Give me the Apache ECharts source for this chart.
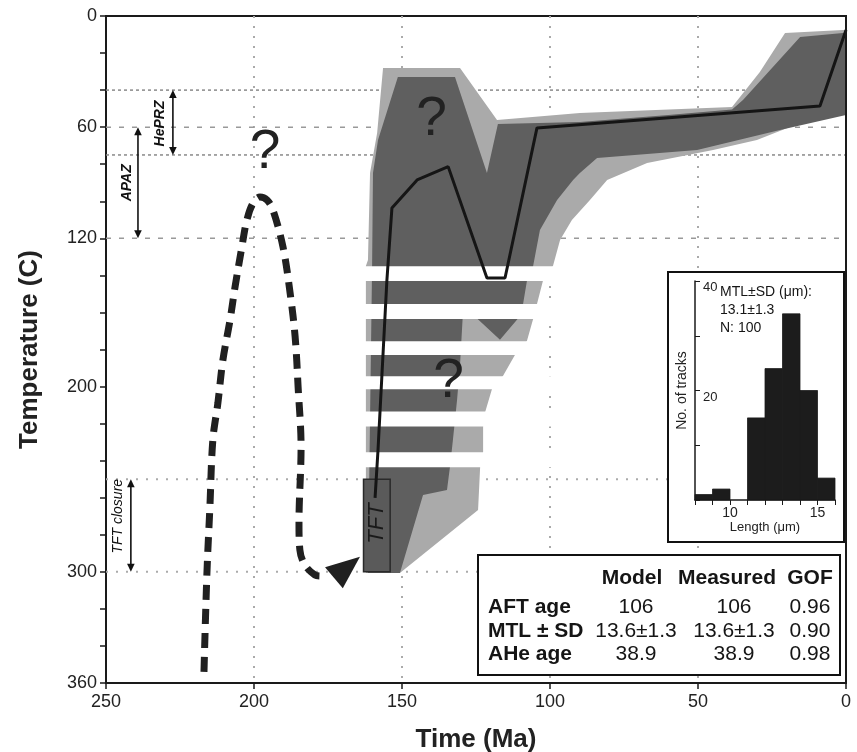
<!DOCTYPE html>
<html>
<head>
<meta charset="utf-8">
<script src="https://cdn.jsdelivr.net/npm/echarts@6/dist/echarts.min.js"></script>
<style>
  html, body { margin: 0; padding: 0; background: #fff; }
  #chart { width: 857px; height: 752px; }
</style>
</head>
<body>
<div id="chart"></div>
<script>
// ---- data (time in Ma, temperature in C) ----
const yLabelValues = [0, 60, 120, 200, 300, 360];
const refLineTemps = [40, 60, 75, 120, 250, 300];

const lightEnvelope = [
  [156.4, 28.1], [130.4, 28.1], [117.9, 56.1], [89.9, 52.3], [38.5, 49.1], [29.1, 30.2],
  [20.6, 9.2], [1, 7.6], [0, 7.6], [0, 52.3], [1, 52.3], [15.5, 57.7], [30.1, 66.9],
  [44.9, 72.3], [67.2, 79.3], [80.7, 88.5], [86.5, 99.3], [92.6, 110.1], [96.6, 120.9],
  [99, 134.9], [102.4, 143], [104.4, 155.4], [105.7, 163.5], [107.8, 175.4], [111.8, 182.9],
  [115.9, 194.3], [119.6, 201.3], [121.9, 213.7], [122.6, 221.8], [122.6, 235.3],
  [123.6, 243.4], [124.3, 266.6], [150.7, 300.6], [162.2, 300.6], [162.2, 134.9],
  [161.5, 131.7], [160.8, 84.7], [158.4, 63.1]
];

const darkEnvelope = [
  [151.4, 32.9], [132.1, 32.9], [121.3, 84.7], [117.6, 58.3], [89.9, 57.2], [60, 53.5],
  [38.5, 50.4], [34.8, 45.3], [15.5, 11.3], [1, 9.2], [0, 9.2], [0, 53.4], [22.3, 61.5],
  [50.3, 72.3], [84.1, 76.6], [89.9, 84.7], [92.2, 88.5], [97.6, 99.3], [103.4, 115.5],
  [105.7, 134.9], [107.8, 143], [109.1, 155.4], [109.8, 161.4], [116.9, 174.8],
  [127, 159.7], [129.4, 159.7], [130.4, 188.3], [131.4, 207.2], [132.8, 228.8],
  [133.8, 243.4], [134.8, 255.8], [142.9, 258.5], [150.7, 300.6], [161.5, 300.6],
  [160.1, 134.9], [159.8, 84.7], [158.1, 66.9]
];

const gapBands = [[135, 143], [155.5, 163.5], [175.5, 183], [194.5, 201.5], [213.5, 221.5], [235.5, 243.5]];

const bestFitPath = [
  [159.1, 260.1], [158.1, 234.2], [155.1, 142.5], [153.4, 103.6], [144.9, 88.5],
  [134.4, 81.3], [121.3, 141.4], [115.2, 141.4], [104.4, 60.4], [8.8, 48.6], [0, 7.6]
];

const dashedPath = [
  [216.9, 354], [215.9, 300.6], [214.9, 265], [213.9, 228.8], [212.2, 208.9], [210.5, 185.6],
  [208.1, 164.1], [206.4, 146.2], [204.1, 124.7], [202.4, 110.1], [200.3, 100.9], [198, 97.7],
  [195.6, 99.3], [193.6, 104.7], [190.2, 124.7], [187.8, 149.5], [186.1, 173.2], [185.1, 200.2],
  [184.1, 232.6], [184.8, 273.6], [184.5, 288.2], [182.8, 296.3], [179.4, 301.7], [177.7, 302.2]
];
const arrowHead = [[176.0, 297.5], [164.2, 291.8], [170.0, 308.9]];

const questionMarks = [[196.3, 74], [140.0, 56.1], [134.3, 197.5]];

const tftBoxTime = [163, 154];
const tftBoxTemp = [250, 300];

const zoneNames = ['HePRZ', 'APAZ', 'TFT closure'];
const zoneTop = [40, 60, 250];
const zoneBottom = [75, 120, 300];

const histBins = [8, 9, 10, 11, 12, 13, 14, 15];
const histCounts = [1, 2, 0, 15, 24, 34, 20, 4];
const histXLabels = [10, 15];
const histYLabels = [20, 40];
const insetStats = ['MTL\u00b1SD (\u03bcm):', '13.1\u00b11.3', 'N: 100'];

const tableHeader = ['Model', 'Measured', 'GOF'];
const tableRowLabels = ['AFT age', 'MTL \u00b1 SD', 'AHe age'];
const tableModel = ['106', '13.6\u00b11.3', '38.9'];
const tableMeasured = ['106', '13.6\u00b11.3', '38.9'];
const tableGOF = ['0.96', '0.90', '0.98'];

// ---- layout / style ----
const FONT = '"Liberation Sans", Arial, Helvetica, sans-serif';
const LIGHT = '#aaaaaa';
const DARK = '#5f5f5f';
const zoneArrowTime = [227.4, 239.2, 241.6];
const zoneLabelTime = [231.6, 242.8, 245.9];
const zoneLabelTemp = [58, 90, 270];
const zoneLabelFont = ['italic bold 14px ' + FONT, 'italic bold 14px ' + FONT, 'italic 14px ' + FONT];
const refLineStyle = {
  40: { color: '#8a8a8a', width: 1.5, dash: [3, 3] },
  75: { color: '#8a8a8a', width: 1.5, dash: [3, 3] },
  60: { color: '#999', width: 1.5, dash: [5, 8] },
  120: { color: '#999', width: 1.5, dash: [5, 8] },
  250: { color: '#aaa', width: 2, dash: [2, 8] },
  300: { color: '#aaa', width: 2, dash: [2, 8] }
};

function polygonSeries(points, color, z) {
  return {
    type: 'custom', silent: true, z: z, xAxisIndex: 0, yAxisIndex: 0,
    data: [points[0]],
    renderItem: function (params, api) {
      return {
        type: 'polygon',
        shape: { points: points.map(function (p) { return api.coord(p); }) },
        style: { fill: color }
      };
    }
  };
}

function txt(x, y, text, font, align, extra) {
  return Object.assign({
    type: 'text', x: x, y: y, z: 51,
    style: {
      text: text, font: font, fill: '#151515',
      align: align, textAlign: align, verticalAlign: 'middle', textVerticalAlign: 'middle'
    }
  }, extra || {});
}

const graphicEls = [
  // right frame edge kept solid above the envelope
  { type: 'line', z: 45, shape: { x1: 846, y1: 16, x2: 846, y2: 683 },
    style: { stroke: '#1a1a1a', lineWidth: 2 } },
  { type: 'rect', z: 50, shape: { x: 668, y: 272, width: 176, height: 270 },
    style: { fill: '#fff', stroke: '#111', lineWidth: 2 } },
  { type: 'rect', z: 50, shape: { x: 478, y: 555, width: 362, height: 120 },
    style: { fill: '#fff', stroke: '#111', lineWidth: 2 } }
];
insetStats.forEach(function (s, i) {
  graphicEls.push(txt(720, 292 + i * 18, s, '14px ' + FONT, 'left', { z: 70 }));
});
const headerX = [632, 727, 810];
const valueX = [636, 734, 810];
const rowY = [607, 631, 654];
tableHeader.forEach(function (h, i) {
  graphicEls.push(txt(headerX[i], 578, h, 'bold 21px ' + FONT, 'center'));
});
tableRowLabels.forEach(function (r, i) {
  graphicEls.push(txt(488, rowY[i], r, 'bold 21px ' + FONT, 'left'));
  graphicEls.push(txt(valueX[0], rowY[i], tableModel[i], '21px ' + FONT, 'center'));
  graphicEls.push(txt(valueX[1], rowY[i], tableMeasured[i], '21px ' + FONT, 'center'));
  graphicEls.push(txt(valueX[2], rowY[i], tableGOF[i], '21px ' + FONT, 'center'));
});

const option = {
  animation: false,
  backgroundColor: '#fff',
  textStyle: { fontFamily: FONT },
  grid: [
    { left: 106, top: 16, width: 740, height: 667, show: true, borderColor: '#1a1a1a', borderWidth: 2,
      backgroundColor: 'transparent', containLabel: false, outerBoundsMode: 'none' },
    { left: 695, top: 281, width: 140, height: 219, containLabel: false, outerBoundsMode: 'none' }
  ],
  xAxis: [
    {
      gridIndex: 0, type: 'value', inverse: true, min: 0, max: 250, interval: 50,
      name: 'Time (Ma)', nameLocation: 'middle', nameGap: 44,
      nameTextStyle: { fontSize: 26, fontWeight: 'bold', color: '#222', fontFamily: FONT },
      axisLine: { show: true, onZero: false, lineStyle: { color: '#1a1a1a', width: 2 } },
      axisTick: { show: true, length: 6, lineStyle: { color: '#1a1a1a', width: 1.5 } },
      axisLabel: { fontSize: 18, color: '#222', margin: 10, fontFamily: FONT },
      splitLine: { show: true, lineStyle: { color: '#aaa', width: 2, type: [2, 8] } }
    },
    {
      gridIndex: 1, type: 'value', min: 8, max: 16, interval: 1, z: 60,
      name: 'Length (\u03bcm)', nameLocation: 'middle', nameGap: 20,
      nameTextStyle: { fontSize: 13, color: '#222', fontFamily: FONT },
      axisLine: { show: true, onZero: false, lineStyle: { color: '#1a1a1a', width: 1.5 } },
      axisTick: { show: true, length: 5, lineStyle: { color: '#1a1a1a', width: 1 } },
      axisLabel: { fontSize: 14, color: '#222', margin: 6, fontFamily: FONT,
        formatter: function (v) { return histXLabels.indexOf(v) >= 0 ? String(v) : ''; } },
      splitLine: { show: false }
    }
  ],
  yAxis: [
    {
      gridIndex: 0, type: 'value', inverse: true, min: 0, max: 360, interval: 20,
      name: 'Temperature (C)', nameLocation: 'middle', nameGap: 63, nameRotate: 90,
      nameTextStyle: { fontSize: 26, fontWeight: 'bold', color: '#222', fontFamily: FONT },
      axisLine: { show: true, onZero: false, lineStyle: { color: '#1a1a1a', width: 2 } },
      axisTick: { show: true, length: 6, lineStyle: { color: '#1a1a1a', width: 1.5 } },
      axisLabel: { fontSize: 18, color: '#222', margin: 9, fontFamily: FONT,
        formatter: function (v) { return yLabelValues.indexOf(v) >= 0 ? String(v) : ''; } },
      splitLine: { show: false }
    },
    {
      gridIndex: 1, type: 'value', min: 0, max: 40, interval: 10, z: 60,
      name: 'No. of tracks', nameLocation: 'middle', nameGap: 6, nameRotate: 90,
      nameTextStyle: { fontSize: 14, color: '#222', fontFamily: FONT },
      axisLine: { show: true, onZero: false, lineStyle: { color: '#1a1a1a', width: 1.5 } },
      axisTick: { show: true, inside: true, length: 5, lineStyle: { color: '#1a1a1a', width: 1 } },
      axisLabel: { inside: true, fontSize: 13, color: '#222', margin: 8, verticalAlign: 'top', fontFamily: FONT,
        formatter: function (v) { return histYLabels.indexOf(v) >= 0 ? String(v) : ''; } },
      splitLine: { show: false }
    }
  ],
  graphic: { elements: graphicEls },
  series: [
    // reference temperature lines
    {
      type: 'custom', silent: true, z: 1, xAxisIndex: 0, yAxisIndex: 0,
      data: refLineTemps.map(function (t) { return [125, t]; }),
      renderItem: function (params, api) {
        const T = refLineTemps[params.dataIndex];
        const a = api.coord([250, T]);
        const b = api.coord([0, T]);
        const st = refLineStyle[T];
        return { type: 'line', shape: { x1: a[0], y1: a[1], x2: b[0], y2: b[1] },
          style: { stroke: st.color, lineWidth: st.width, lineDash: st.dash } };
      }
    },
    polygonSeries(lightEnvelope, LIGHT, 2),
    polygonSeries(darkEnvelope, DARK, 3),
    // TFT box
    {
      type: 'custom', silent: true, z: 4, xAxisIndex: 0, yAxisIndex: 0,
      data: [[tftBoxTime[0], tftBoxTemp[0]]],
      renderItem: function (params, api) {
        const p0 = api.coord([tftBoxTime[0], tftBoxTemp[0]]);
        const p1 = api.coord([tftBoxTime[1], tftBoxTemp[1]]);
        const c = api.coord([(tftBoxTime[0] + tftBoxTime[1]) / 2, (tftBoxTemp[0] + tftBoxTemp[1]) / 2]);
        return { type: 'group', children: [
          { type: 'rect', shape: { x: p0[0], y: p0[1], width: p1[0] - p0[0], height: p1[1] - p0[1] },
            style: { fill: '#5a5a5a', stroke: '#2a2a2a', lineWidth: 1.5 } },
          { type: 'text', x: c[0], y: c[1] - 2, rotation: Math.PI / 2, z2: 5,
            style: { text: 'TFT', font: 'italic 22px ' + FONT, fill: '#1a1a1a',
              align: 'center', textAlign: 'center', verticalAlign: 'middle', textVerticalAlign: 'middle' } }
        ] };
      }
    },
    // white gaps between the banded envelope
    {
      type: 'custom', silent: true, z: 5, xAxisIndex: 0, yAxisIndex: 0,
      data: gapBands,
      renderItem: function (params, api) {
        const band = gapBands[params.dataIndex];
        const p0 = api.coord([166, band[0]]);
        const p1 = api.coord([95, band[1]]);
        return { type: 'rect', shape: { x: p0[0], y: p0[1], width: p1[0] - p0[0], height: p1[1] - p0[1] },
          style: { fill: '#ffffff' } };
      }
    },
    // best fit path
    {
      type: 'line', silent: true, z: 7, xAxisIndex: 0, yAxisIndex: 0,
      data: bestFitPath, showSymbol: false, symbol: 'none',
      lineStyle: { color: '#151515', width: 3 }
    },
    // dashed hypothetical path
    {
      type: 'line', silent: true, z: 7, xAxisIndex: 0, yAxisIndex: 0,
      data: dashedPath, showSymbol: false, symbol: 'none', smooth: 0.35,
      lineStyle: { color: '#202020', width: 7, type: [15, 9], cap: 'butt' }
    },
    polygonSeries(arrowHead, '#202020', 7),
    // question marks
    {
      type: 'custom', silent: true, z: 8, xAxisIndex: 0, yAxisIndex: 0,
      data: questionMarks,
      renderItem: function (params, api) {
        const p = api.coord(questionMarks[params.dataIndex]);
        return { type: 'text', x: p[0], y: p[1],
          style: { text: '?', font: '55px ' + FONT, fill: '#222',
            align: 'center', textAlign: 'center', verticalAlign: 'middle', textVerticalAlign: 'middle' } };
      }
    },
    // zone double arrows
    {
      type: 'custom', silent: true, z: 8, xAxisIndex: 0, yAxisIndex: 0,
      data: zoneNames.map(function (n, i) { return [zoneArrowTime[i], zoneTop[i]]; }),
      renderItem: function (params, api) {
        const i = params.dataIndex;
        const a = api.coord([zoneArrowTime[i], zoneTop[i]]);
        const b = api.coord([zoneArrowTime[i], zoneBottom[i]]);
        const l = api.coord([zoneLabelTime[i], zoneLabelTemp[i]]);
        const x = a[0], h = 8, w = 3.8;
        return { type: 'group', children: [
          { type: 'line', shape: { x1: x, y1: a[1] + 4, x2: x, y2: b[1] - 4 },
            style: { stroke: '#111', lineWidth: 1.6 } },
          { type: 'polygon', shape: { points: [[x, a[1]], [x - w, a[1] + h], [x + w, a[1] + h]] },
            style: { fill: '#111' } },
          { type: 'polygon', shape: { points: [[x, b[1]], [x - w, b[1] - h], [x + w, b[1] - h]] },
            style: { fill: '#111' } },
          { type: 'text', x: l[0], y: l[1], rotation: Math.PI / 2,
            style: { text: zoneNames[i], font: zoneLabelFont[i], fill: '#111',
              align: 'center', textAlign: 'center', verticalAlign: 'middle', textVerticalAlign: 'middle' } }
        ] };
      }
    },
    // inset histogram
    {
      type: 'custom', silent: true, z: 60, xAxisIndex: 1, yAxisIndex: 1,
      data: histBins.map(function (b, i) { return [b, histCounts[i]]; }),
      renderItem: function (params, api) {
        const x0 = api.value(0), c = api.value(1);
        if (!c) return null;
        const p0 = api.coord([x0, c]);
        const p1 = api.coord([x0 + 1, 0]);
        return { type: 'rect', shape: { x: p0[0], y: p0[1], width: p1[0] - p0[0], height: p1[1] - p0[1] },
          style: { fill: '#1c1c1c', stroke: '#1c1c1c', lineWidth: 0.8 } };
      }
    }
  ]
};

const chart = echarts.init(document.getElementById('chart'));
chart.setOption(option);
</script>
</body>
</html>
